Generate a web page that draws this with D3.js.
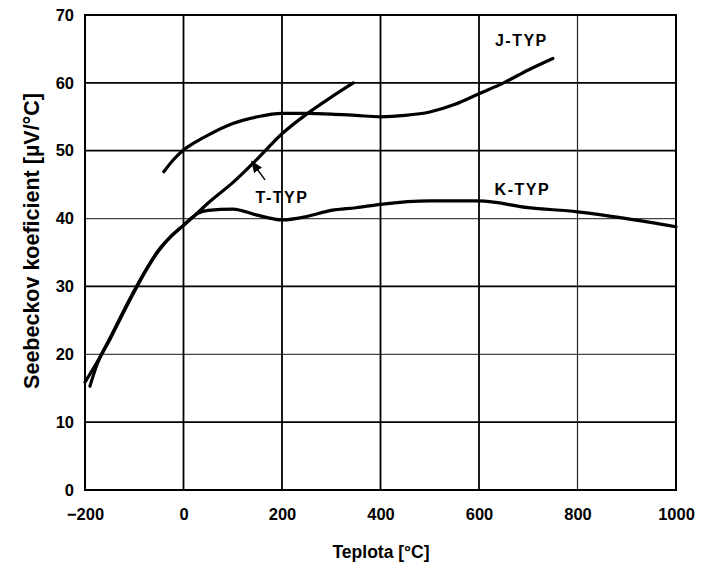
<!DOCTYPE html>
<html>
<head>
<meta charset="utf-8">
<script src="https://cdn.jsdelivr.net/npm/d3@7"></script>
<style>
  body { margin: 0; background: #fff; }
  text { font-family: "Liberation Sans", Arial, sans-serif; font-weight: bold; fill: #000; }
</style>
</head>
<body>
<div class="chart"></div>
<script>
// values (temperature in °C, Seebeck coefficient in µV/°C)
var xTicks = [-200, 0, 200, 400, 600, 800, 1000];
var yTicks = [0, 10, 20, 30, 40, 50, 60, 70];

var jTemp = [-40, -20, 0, 25, 50, 100, 150, 200, 250, 300, 350, 400, 450, 500, 550, 600, 650, 700, 750];
var jVal  = [46.9, 48.7, 50.1, 51.3, 52.3, 54.0, 55.0, 55.5, 55.5, 55.4, 55.2, 55.0, 55.2, 55.7, 56.8, 58.4, 60.0, 61.9, 63.6];

var kTemp = [-200, -175, -150, -125, -100, -75, -50, -25, 0, 15, 30, 50, 100, 150, 200, 250, 300, 350, 400, 500, 600, 700, 800, 900, 1000];
var kVal  = [15.9, 18.9, 22.3, 25.9, 29.4, 32.6, 35.4, 37.4, 39.0, 40.0, 40.8, 41.2, 41.4, 40.5, 39.8, 40.3, 41.2, 41.6, 42.1, 42.6, 42.6, 41.6, 41.0, 40.0, 38.8];

var tTemp = [-190, -175, -150, -125, -100, -75, -50, -25, 0, 25, 50, 100, 150, 200, 250, 300, 345];
var tVal  = [15.3, 18.6, 22.1, 25.7, 29.2, 32.5, 35.3, 37.4, 39.0, 40.6, 42.3, 45.3, 48.8, 52.5, 55.4, 57.9, 60.0];

var seriesNames = ["J-TYP", "K-TYP", "T-TYP"];

function drawChart(){
    var w = 701, h = 569;
    var left = 85, right = 676, top = 15, bottom = 490;

    var svg = d3.select(".chart")
                .append("svg")
                .attr("width", w)
                .attr("height", h);

    var xScale = d3.scaleLinear().domain([-200, 1000]).range([left, right]);
    var yScale = d3.scaleLinear().domain([0, 70]).range([bottom, top]);

    // grid
    svg.append("g").selectAll("line")
        .data(yTicks.slice(1, -1))
        .enter().append("line")
        .attr("x1", left).attr("x2", right)
        .attr("y1", d => yScale(d)).attr("y2", d => yScale(d))
        .attr("stroke", d => (d == 20 || d == 40) ? "#444" : "#000")
        .attr("stroke-width", d => (d == 20 || d == 40) ? 1.2 : 1.8);

    svg.append("g").selectAll("line")
        .data(xTicks.slice(1, -1))
        .enter().append("line")
        .attr("y1", top).attr("y2", bottom)
        .attr("x1", d => xScale(d)).attr("x2", d => xScale(d))
        .attr("stroke", d => d == 800 ? "#222" : "#000")
        .attr("stroke-width", d => d == 800 ? 1.2 : 1.8);

    // frame
    svg.append("rect")
        .attr("x", left).attr("y", top)
        .attr("width", right - left).attr("height", bottom - top)
        .attr("fill", "none").attr("stroke", "#000").attr("stroke-width", 2);

    // axes (labels only, grid does the lines)
    var xAxis = d3.axisBottom(xScale).tickValues(xTicks).tickFormat(d3.format("d")).tickSize(0).tickPadding(18);
    var gx = svg.append("g").attr("transform", `translate(0,${bottom})`).call(xAxis);
    gx.select(".domain").remove();
    gx.selectAll("text").attr("font-size", "16.5px").attr("font-family", null).attr("fill", "#000");

    var yAxis = d3.axisLeft(yScale).tickValues(yTicks).tickSize(0).tickPadding(11);
    var gy = svg.append("g").attr("transform", `translate(${left},0)`).call(yAxis);
    gy.select(".domain").remove();
    gy.selectAll("text").attr("font-size", "16.5px").attr("font-family", null).attr("fill", "#000");

    // curves
    var line = d3.line()
        .x(d => xScale(d[0]))
        .y(d => yScale(d[1]))
        .curve(d3.curveMonotoneX);

    var series = [d3.zip(jTemp, jVal), d3.zip(kTemp, kVal), d3.zip(tTemp, tVal)];
    svg.append("g").selectAll("path")
        .data(series)
        .enter().append("path")
        .attr("fill", "none")
        .attr("stroke", "#000")
        .attr("stroke-width", 3.2)
        .attr("stroke-linecap", "round")
        .attr("d", line);

    // curve labels
    var labelPos = [[686, 65.5], [688, 43.5], [200, 42.3]];
    svg.append("g").selectAll("text")
        .data(seriesNames)
        .enter().append("text")
        .attr("x", (d, i) => xScale(labelPos[i][0]))
        .attr("y", (d, i) => yScale(labelPos[i][1]))
        .attr("text-anchor", "middle")
        .attr("font-size", "16px")
        .attr("letter-spacing", "1.5px")
        .text(d => d);

    // arrow to T curve
    svg.append("defs").append("marker")
        .attr("id", "arr").attr("viewBox", "0 0 10 10")
        .attr("refX", 9).attr("refY", 5)
        .attr("markerWidth", 8).attr("markerHeight", 8)
        .attr("orient", "auto")
        .append("path").attr("d", "M0,1 L10,5 L0,9 Z").attr("fill", "#000");
    svg.append("line")
        .attr("x1", xScale(165.5)).attr("y1", yScale(45.7))
        .attr("x2", xScale(138.5)).attr("y2", yScale(48.4))
        .attr("stroke", "#000").attr("stroke-width", 1.5)
        .attr("marker-end", "url(#arr)");

    // axis titles
    svg.append("text")
        .attr("x", 381).attr("y", 558)
        .attr("text-anchor", "middle")
        .attr("font-size", "17.5px")
        .text("Teplota [°C]");

    svg.append("text")
        .attr("transform", "translate(39,241) rotate(-90)")
        .attr("text-anchor", "middle")
        .attr("font-size", "21.5px")
        .text("Seebeckov koeficient [µV/°C]");
}

drawChart();
</script>
</body>
</html>
